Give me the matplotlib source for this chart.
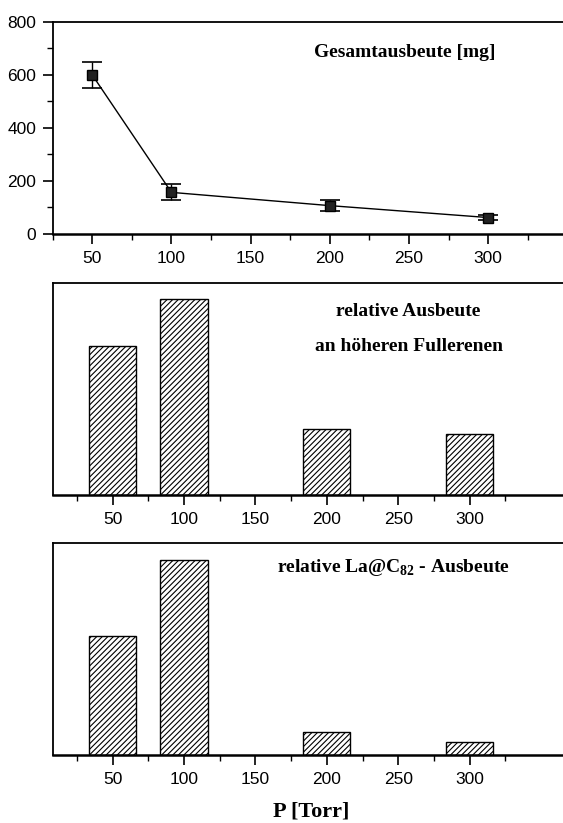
import matplotlib.pyplot as plt
from matplotlib.ticker import MultipleLocator, NullLocator

plt.rcParams['hatch.linewidth'] = 0.8
plt.rcParams['mathtext.fontset'] = 'custom'
plt.rcParams['mathtext.rm'] = 'Liberation Serif'
plt.rcParams['mathtext.bf'] = 'Liberation Serif:bold'

# Pressure series (Torr)
pressure = [50, 100, 200, 300]

# Total yield in mg with error bars
total_yield = [600, 157, 107, 62]
total_err = [50, 30, 20, 11]

# Relative yields (arbitrary units)
rel_higher = [0.76, 1.0, 0.335, 0.313]
rel_la = [0.608, 1.0, 0.118, 0.068]

xticks = [50, 100, 150, 200, 250, 300]
bar_width = 33

tick_font = dict(family='Liberation Sans', size=12.5)
label_font = dict(family='Liberation Serif', weight='bold', size=14)

fig = plt.figure(figsize=(5.63, 8.23), dpi=100)

ax1 = fig.add_axes([0.0936, 0.7157, 0.914, 0.2576])
ax2 = fig.add_axes([0.0936, 0.3985, 0.918, 0.2576])
ax3 = fig.add_axes([0.0936, 0.0826, 0.918, 0.2572])


def style(ax):
    ax.spines['right'].set_visible(False)
    for s in ('left', 'top', 'bottom'):
        ax.spines[s].set_linewidth(1.3)
    ax.spines['bottom'].set_linewidth(1.8)
    ax.tick_params(axis='both', which='major', direction='out', length=7, width=1.2, pad=5)
    ax.tick_params(axis='both', which='minor', direction='out', length=4, width=1.0)
    ax.set_xticks(xticks)
    ax.set_xticklabels([str(t) for t in xticks], fontdict=tick_font)
    ax.xaxis.set_minor_locator(MultipleLocator(50, offset=25))


# Top panel: total yield
ax1.errorbar(pressure, total_yield, yerr=total_err, color='black', lw=1.0,
             marker='s', markersize=7, markerfacecolor='#222222',
             markeredgecolor='black', capsize=7, elinewidth=1.0, capthick=1.2)
ax1.set_xlim(25, 350)
ax1.set_ylim(0, 800)
style(ax1)
ax1.set_yticks([0, 200, 400, 600, 800])
ax1.set_yticklabels(['0', '200', '400', '600', '800'], fontdict=tick_font)
ax1.yaxis.set_minor_locator(MultipleLocator(100))
ax1.text(0.86, 0.858, 'Gesamtausbeute [mg]', transform=ax1.transAxes,
         ha='right', va='center', fontdict=label_font)

# Middle panel: relative yield of higher fullerenes
ax2.bar(pressure, rel_higher, width=bar_width, color='white', edgecolor='black',
        linewidth=1.0, hatch='//////')
ax2.set_xlim(8, 370)
ax2.set_ylim(0, 1.082)
style(ax2)
ax2.yaxis.set_major_locator(NullLocator())
ax2.text(0.687, 0.865, 'relative Ausbeute', transform=ax2.transAxes,
         ha='center', va='center', fontdict=label_font)
ax2.text(0.69, 0.70, 'an höheren Fullerenen', transform=ax2.transAxes,
         ha='center', va='center', fontdict=label_font)

# Bottom panel: relative La@C82 yield
ax3.bar(pressure, rel_la, width=bar_width, color='white', edgecolor='black',
        linewidth=1.0, hatch='//////')
ax3.set_xlim(8, 370)
ax3.set_ylim(0, 1.083)
style(ax3)
ax3.yaxis.set_major_locator(NullLocator())
ax3.text(0.434, 0.888, r'relative La@C$_{\mathbf{82}}$ - Ausbeute', transform=ax3.transAxes,
         ha='left', va='center', fontdict=label_font)
ax3.set_xlabel('P [Torr]', family='Liberation Serif', weight='bold', size=16, labelpad=11)

fig.savefig('out.png', dpi=100)
